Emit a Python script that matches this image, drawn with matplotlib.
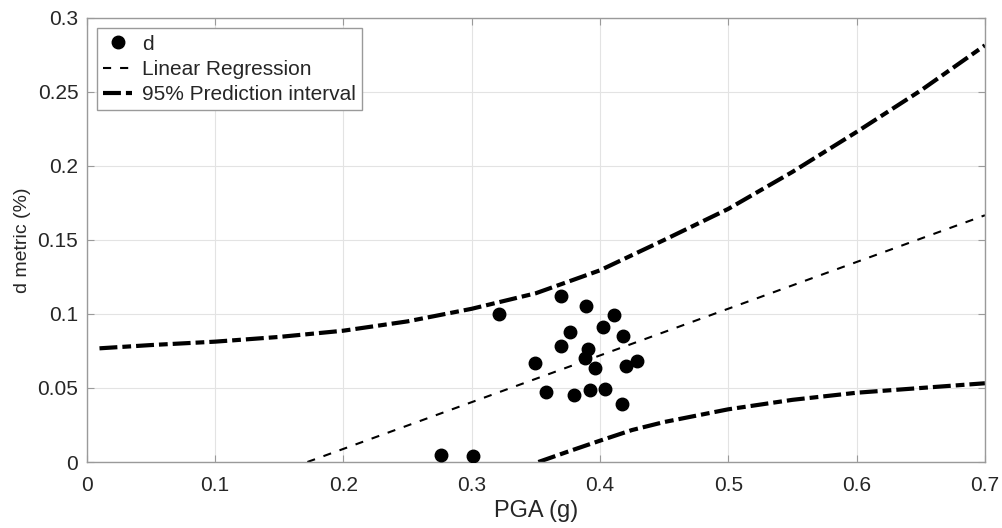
import numpy as np
import matplotlib
matplotlib.use("Agg")
import matplotlib.pyplot as plt

plt.rcParams['font.family'] = ['Liberation Sans', 'DejaVu Sans']

# ---Data---
# PGA (g) and d metric (%) for each record
pga = [0.370, 0.389, 0.321, 0.411, 0.402, 0.377, 0.418, 0.370, 0.391, 0.388,
       0.349, 0.429, 0.420, 0.396, 0.358, 0.404, 0.392, 0.380, 0.417, 0.276, 0.301]
d_metric = [0.1123, 0.1056, 0.1002, 0.0995, 0.0913, 0.0877, 0.0850, 0.0787, 0.0765, 0.0704,
            0.0666, 0.0679, 0.0648, 0.0632, 0.0473, 0.0496, 0.0487, 0.0451, 0.0392, 0.0047, 0.0038]

# linear regression line
reg_x = [0.172, 0.70]
reg_y = [0.0, 0.1667]

# 95% prediction interval bounds
upper_x = [0.01, 0.05, 0.10, 0.15, 0.20, 0.25, 0.30, 0.35, 0.40, 0.45, 0.50, 0.55, 0.60, 0.65, 0.70]
upper_y = [0.0768, 0.0790, 0.0813, 0.0845, 0.0887, 0.0950, 0.1035, 0.1140, 0.1295, 0.1500,
           0.1710, 0.1960, 0.2230, 0.2510, 0.2815]
lower_x = [0.352, 0.375, 0.40, 0.425, 0.45, 0.50, 0.55, 0.60, 0.65, 0.70]
lower_y = [0.0, 0.0070, 0.0144, 0.0216, 0.0270, 0.0356, 0.0420, 0.0468, 0.0500, 0.0532]

xticks = [0, 0.1, 0.2, 0.3, 0.4, 0.5, 0.6, 0.7]
xtick_labels = ['0', '0.1', '0.2', '0.3', '0.4', '0.5', '0.6', '0.7']
yticks = [0, 0.05, 0.1, 0.15, 0.2, 0.25, 0.3]
ytick_labels = ['0', '0.05', '0.1', '0.15', '0.2', '0.25', '0.3']

# ---Plot---
fig = plt.figure(figsize=(10.03, 5.28), dpi=100)
ax = fig.add_axes([0.0864, 0.125, 0.8956, 0.841])

pi_dash = (4.3, 1.2, 2.1, 1.2)   # long dash / short dash, in linewidth units

ax.plot(pga, d_metric, 'o', color='k', markersize=9, label='d', zorder=5)
ax.plot(reg_x, reg_y, color='k', lw=1.5, dashes=(3.9, 4.3), label='Linear Regression')
ax.plot(upper_x, upper_y, color='k', lw=3.0, dashes=pi_dash, label='95% Prediction interval')
ax.plot(lower_x, lower_y, color='k', lw=3.0, dashes=pi_dash)

ax.set_xlim(0, 0.7)
ax.set_ylim(0, 0.3)
ax.set_xticks(xticks)
ax.set_xticklabels(xtick_labels)
ax.set_yticks(yticks)
ax.set_yticklabels(ytick_labels)

ax.grid(True, color='#e3e3e3', lw=0.8)
ax.set_axisbelow(True)
for s in ax.spines.values():
    s.set_color('#9a9a9a')
    s.set_linewidth(1.0)
ax.tick_params(direction='in', length=5, color='#9a9a9a', labelcolor='#262626',
               labelsize=15, top=True, right=True)
ax.tick_params(axis='x', pad=10)
ax.tick_params(axis='y', pad=6)

ax.set_xlabel('PGA (g)', fontsize=17, color='#262626', labelpad=4)
ax.set_ylabel('d metric (%)', fontsize=14, color='#262626')
ax.yaxis.set_label_coords(-0.062, 0.5)

leg = ax.legend(loc='upper left', fontsize=15, handlelength=1.4, handletextpad=0.45,
                borderaxespad=0.5, borderpad=0.3, labelspacing=0.3, fancybox=False,
                framealpha=1, edgecolor='#9a9a9a')
leg.get_frame().set_linewidth(1.0)
for t in leg.get_texts():
    t.set_color('#262626')

plt.savefig('out.png', dpi=100)
